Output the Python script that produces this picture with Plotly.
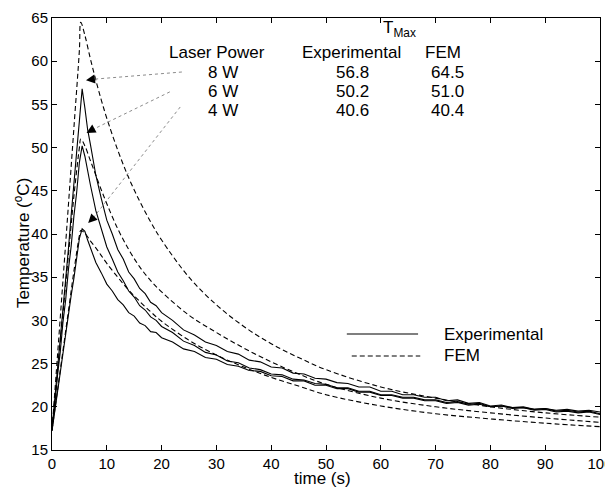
"""Laser heating: experimental vs FEM temperature curves"""
import plotly.graph_objects as go

# time axes (s)
t_exp = [0, 0.5, 1, 1.5, 2, 2.5, 3, 3.5, 4, 4.5, 5, 5.5, 6, 6.5, 7, 8, 9, 10,
         11, 12, 13, 14, 15, 16, 17, 18, 19, 20, 22, 24, 26, 28, 30, 32, 34,
         36, 38, 40, 42, 44, 46, 48, 50, 52, 54, 56, 58, 60, 62, 64, 66, 68,
         70, 72, 74, 76, 78, 80, 82, 84, 86, 88, 90, 92, 94, 96, 98, 100]
t_fem = [0, 1, 2, 3, 4, 5, 5.25, 6, 7, 8, 9, 10, 12, 14, 16, 18, 20, 25, 30,
         35, 40, 45, 50, 60, 70, 80, 90, 100]

# measured temperatures (deg C)
exp_8w = [17.4, 20.8, 24.0, 28.1, 31.2, 35.1, 38.3, 42.2, 45.5, 49.5, 53.1, 56.8,
          54.6, 52.1, 50.4, 46.8, 44.1, 41.6, 40.0, 38.2, 37.1, 35.6, 34.8, 33.7,
          33.1, 32.1, 31.7, 30.9, 30.0, 28.9, 28.3, 27.5, 27.1, 26.4, 26.1, 25.4,
          25.2, 24.6, 24.5, 23.9, 23.8, 23.3, 23.2, 22.8, 22.7, 22.3, 22.3, 21.8,
          21.8, 21.4, 21.4, 21.1, 21.1, 20.7, 20.8, 20.4, 20.5, 20.1, 20.2, 19.9,
          20.0, 19.7, 19.8, 19.5, 19.6, 19.4, 19.5, 19.2]
exp_6w = [17.3, 20.0, 23.6, 26.3, 29.8, 32.4, 35.9, 38.6, 42.1, 44.8, 48.3, 50.2,
          49.0, 47.2, 45.7, 42.7, 40.6, 38.5, 37.1, 35.6, 34.6, 33.4, 32.7, 31.7,
          31.2, 30.4, 30.0, 29.3, 28.6, 27.6, 27.1, 26.3, 26.0, 25.3, 25.1, 24.5,
          24.3, 23.8, 23.7, 23.2, 23.1, 22.7, 22.6, 22.2, 22.2, 21.8, 21.8, 21.4,
          21.4, 21.1, 21.1, 20.8, 20.8, 20.5, 20.6, 20.3, 20.4, 20.0, 20.1, 19.8,
          19.9, 19.6, 19.7, 19.4, 19.5, 19.3, 19.4, 19.1]
exp_4w = [17.2, 19.5, 21.4, 23.9, 25.9, 28.4, 30.4, 32.9, 34.9, 37.5, 39.5, 40.6,
          40.3, 39.3, 38.5, 36.7, 35.5, 34.2, 33.4, 32.4, 31.8, 30.9, 30.5, 29.7,
          29.4, 28.7, 28.6, 28.0, 27.5, 26.7, 26.4, 25.7, 25.5, 24.9, 24.7, 24.2,
          24.1, 23.6, 23.5, 23.0, 23.0, 22.5, 22.5, 22.1, 22.1, 21.7, 21.7, 21.3,
          21.3, 21.0, 21.0, 20.7, 20.7, 20.4, 20.5, 20.2, 20.3, 20.0, 20.1, 19.9,
          19.9, 19.7, 19.8, 19.6, 19.7, 19.5, 19.6, 19.4]

# FEM temperatures (deg C)
fem_8w = [17.3, 25.9, 34.6, 43.4, 52.3, 61.3, 64.5, 63.0, 60.3, 57.8, 55.5,
          53.4, 49.7, 46.5, 43.8, 41.4, 39.3, 35.0, 31.8, 29.3, 27.3, 25.7,
          24.3, 22.3, 21.0, 20.0, 19.3, 18.8]
fem_6w = [17.3, 24.0, 30.8, 37.6, 44.4, 50.0, 51.0, 50.2, 48.5, 46.8, 45.1,
          43.5, 40.6, 38.2, 36.2, 34.6, 33.3, 30.6, 28.6, 26.8, 25.2, 23.8,
          22.6, 21.0, 20.0, 19.3, 18.7, 18.2]
fem_4w = [17.3, 21.9, 26.5, 31.1, 35.7, 39.8, 40.4, 40.1, 39.2, 38.4, 37.5,
          36.6, 35.0, 33.5, 32.2, 31.0, 29.9, 27.7, 26.0, 24.6, 23.4, 22.4,
          21.4, 20.1, 19.2, 18.6, 18.1, 17.7]

powers = ["8 W", "6 W", "4 W"]
tmax_exp = ["56.8", "50.2", "40.6"]
tmax_fem = ["64.5", "51.0", "40.4"]

FONT = "Liberation Sans, Arial, sans-serif"

fig = go.Figure()

for y in (exp_8w, exp_6w, exp_4w):
    fig.add_trace(go.Scatter(x=t_exp, y=y, mode="lines",
                             line={"color": "black", "width": 1.1}))
for y in (fem_8w, fem_6w, fem_4w):
    fig.add_trace(go.Scatter(x=t_fem, y=y, mode="lines", line_shape="spline",
                             line={"color": "black", "width": 1.1,
                                   "dash": "5px,3px"}))

# table of peak temperatures
ann = [
    dict(x=0.635, y=0.975, text="T<sub>Max</sub>", font_size=17),
    dict(x=0.301, y=0.919, text="Laser Power", font_size=17),
    dict(x=0.547, y=0.919, text="Experimental", font_size=17),
    dict(x=0.7135, y=0.919, text="FEM", font_size=17),
]
row_y = [0.873, 0.829, 0.785]
for i, p in enumerate(powers):
    ann.append(dict(x=0.312, y=row_y[i], text=p, font_size=17))
    ann.append(dict(x=0.549, y=row_y[i], text=tmax_exp[i], font_size=17))
    ann.append(dict(x=0.7226, y=row_y[i], text=tmax_fem[i], font_size=17))

# legend text
ann.append(dict(x=0.712, y=0.2685, text="Experimental", xanchor="left", font_size=17))
ann.append(dict(x=0.712, y=0.2176, text="FEM", xanchor="left", font_size=17))

# axis titles
ann.append(dict(x=0.4945, y=-0.066, text="time (s)", font_size=17))
ann.append(dict(x=-0.0547, y=0.479, text="Temperature (<sup>o</sup>C)",
                font_size=17, textangle=-90))

for a in ann:
    a.setdefault("xanchor", "center")
    fig.add_annotation(xref="paper", yref="paper", yanchor="middle",
                       showarrow=False, **a)

# pointer arrows from table rows to the peaks
pointers = [
    ((0.237, 0.875), (0.073, 0.858), (0.062, 0.856)),
    ((0.215, 0.829), (0.073, 0.741), (0.063, 0.734)),
    ((0.234, 0.794), (0.075, 0.537), (0.066, 0.5255)),
]
shapes = []
for (x0, y0), (x1, y1), (hx, hy) in pointers:
    shapes.append(dict(type="line", xref="paper", yref="paper",
                       x0=x0, y0=y0, x1=x1, y1=y1,
                       line={"color": "#8c8c8c", "width": 1, "dash": "dot"}))
    fig.add_annotation(xref="x domain", yref="y domain", x=hx, y=hy, ax=x1, ay=y1,
                       axref="x domain", ayref="y domain", text="", showarrow=True,
                       arrowhead=2, arrowsize=1.5, arrowwidth=1.2,
                       arrowcolor="black")

# hand-drawn legend samples
shapes.append(dict(type="line", xref="paper", yref="paper", x0=0.538, x1=0.668,
                   y0=0.2685, y1=0.2685, line={"color": "black", "width": 1.1}))
shapes.append(dict(type="line", xref="paper", yref="paper", x0=0.547, x1=0.672,
                   y0=0.2176, y1=0.2176,
                   line={"color": "black", "width": 1.1, "dash": "5px,3px"}))

# page body adds an 8px offset, so the figure is sized to fit inside it
fig.update_layout(
    shapes=shapes,
    width=605, height=481,
    margin=dict(l=44, r=13, t=10, b=39, autoexpand=False),
    paper_bgcolor="white", plot_bgcolor="white",
    showlegend=False,
    font=dict(family=FONT, size=15, color="black"),
)
axis_style = dict(showline=True, linecolor="black", linewidth=1, mirror="ticks",
                  ticks="inside", ticklen=5, tickcolor="black", showgrid=False,
                  zeroline=False, tickfont_size=15, automargin=False,
                  ticklabeloverflow="allow")
fig.update_xaxes(range=[0, 100], dtick=10, **axis_style)
fig.update_yaxes(range=[15, 65], dtick=5, **axis_style)

fig.write_html("out.html")
